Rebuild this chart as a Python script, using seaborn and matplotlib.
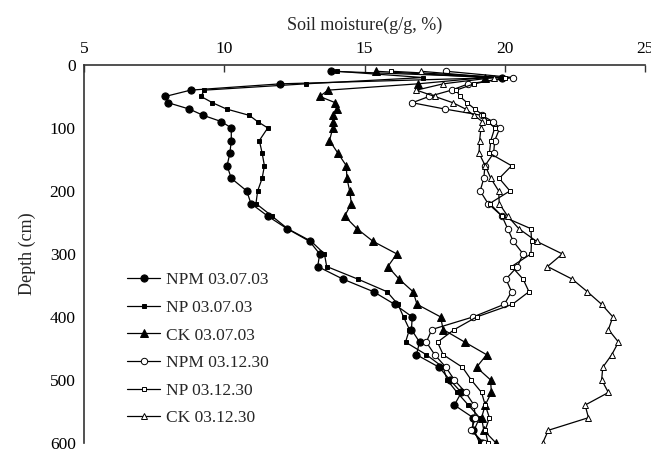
import matplotlib
matplotlib.use("Agg")
import matplotlib.pyplot as plt
import seaborn as sns
import pandas as pd

depth = [10, 20, 30, 40, 50, 60, 70, 80, 90, 100,
         120, 140, 160, 180, 200, 220, 240, 260, 280, 300,
         320, 340, 360, 380, 400, 420, 440, 460, 480, 500,
         520, 540, 560, 580, 600]

npm_0703 = [13.8, 19.9, 12.0, 8.8, 7.9, 8.0, 8.75, 9.25, 9.9, 10.25,
            10.25, 10.2, 10.1, 10.25, 10.8, 10.95, 11.55, 12.24, 13.04, 13.4,
            13.33, 14.23, 15.32, 16.07, 16.7, 16.67, 16.96, 16.85, 17.66, 18.04,
            18.45, 18.2, 18.87, 18.85, 19.17]
np_0703 = [14.0, 17.1, 12.9, 9.29, 9.17, 9.58, 10.08, 10.89, 11.19, 11.55,
           11.25, 11.35, 11.43, 11.35, 11.19, 11.13, 11.7, 12.26, 13.1, 13.57,
           13.65, 14.76, 15.8, 16.19, 16.39, 16.6, 16.46, 17.2, 17.8, 17.94,
           18.3, 18.7, 19.1, 18.9, 19.1]
ck_0703 = [15.4, 19.3, 16.9, 13.7, 13.4, 13.96, 14.0, 13.87, 13.87, 13.87,
           13.75, 14.05, 14.35, 14.37, 14.47, 14.53, 14.29, 14.73, 15.3, 16.15,
           15.83, 16.23, 16.73, 16.87, 17.71, 17.8, 18.57, 19.35, 18.99, 19.49,
           19.52, 19.3, 19.17, 19.25, 19.68]
npm_1230 = [17.9, 20.3, 18.7, 18.1, 17.3, 16.7, 17.86, 19.17, 19.58, 19.82,
            19.64, 19.6, 19.29, 19.25, 19.12, 19.4, 19.9, 20.1, 20.3, 20.65,
            20.45, 20.04, 20.24, 19.98, 18.87, 17.4, 17.2, 17.5, 17.9, 18.2,
            18.6, 18.9, 18.95, 18.8, 19.25]
np_1230 = [15.95, 20.0, 18.9, 18.27, 18.4, 18.65, 18.93, 19.23, 19.4, 19.64,
           19.5, 19.45, 20.24, 19.8, 20.18, 19.46, 19.9, 20.93, 20.95, 20.93,
           20.24, 20.65, 20.86, 20.27, 19.0, 18.2, 17.6, 17.8, 18.49, 18.8,
           19.17, 19.3, 19.45, 19.3, 19.4]
ck_1230 = [17.0, 19.6, 17.8, 16.85, 17.5, 18.15, 18.6, 18.9, 19.2, 19.15,
           19.1, 19.08, 19.3, 19.5, 19.78, 19.8, 20.1, 20.5, 21.13, 22.05,
           21.52, 22.4, 22.94, 23.45, 23.85, 23.69, 24.05, 23.81, 23.49, 23.45,
           23.69, 22.86, 22.98, 21.55, 21.35]

labels = ["NPM 03.07.03", "NP 03.07.03", "CK 03.07.03",
          "NPM 03.12.30", "NP 03.12.30", "CK 03.12.30"]
series = [npm_0703, np_0703, ck_0703, npm_1230, np_1230, ck_1230]
x_ticks = [5, 10, 15, 20, 25]
y_ticks = [0, 100, 200, 300, 400, 500, 600]

styles = [
    dict(marker="o", ms=5.2, mfc="black"),
    dict(marker="s", ms=2.8, mfc="black"),
    dict(marker="^", ms=5.4, mfc="black"),
    dict(marker="o", ms=4.6, mfc="white"),
    dict(marker="s", ms=3.2, mfc="white"),
    dict(marker="^", ms=5.0, mfc="white"),
]

sns.set_style("white")
plt.rcParams["font.family"] = ["Liberation Serif", "DejaVu Serif"]
plt.rcParams["font.size"] = 12.5

fig = plt.figure(figsize=(6.51, 4.51), dpi=100)
ax = fig.add_axes([0.129, 0.018, 0.862, 0.838])

for lab, vals, st in zip(labels, series, styles):
    df = pd.DataFrame({"moisture": vals, "depth": depth})
    sns.lineplot(data=df, x="moisture", y="depth", sort=False, estimator=None,
                 ax=ax, color="black", lw=0.9, label=lab,
                 marker=st["marker"], markersize=st["ms"],
                 markerfacecolor=st["mfc"], markeredgecolor="black",
                 markeredgewidth=0.7)

ax.set_xlim(5, 25)
ax.set_ylim(600, 0)
ax.set_xticks(x_ticks)
ax.set_yticks(y_ticks)
ax.xaxis.tick_top()
ax.xaxis.set_label_position("top")
ax.set_xlabel("Soil moisture(g/g, %)", fontsize=13, labelpad=8)
ax.set_ylabel("Depth (cm)", fontsize=13, labelpad=10)
ax.tick_params(axis="x", direction="in", length=5, width=1, colors="#333333",
               labelcolor="black", labelsize=12.5, pad=6)
ax.tick_params(axis="y", direction="in", length=5, width=1, colors="#333333",
               labelcolor="black", labelsize=12.5, pad=6)
for s in ["bottom", "right"]:
    ax.spines[s].set_visible(False)
for s in ["top", "left"]:
    ax.spines[s].set_color("#333333")
    ax.spines[s].set_linewidth(1.2)

leg = ax.legend(loc="upper left", bbox_to_anchor=(0.065, 0.47), frameon=False,
                fontsize=12.5, labelspacing=0.66, handlelength=1.9,
                handletextpad=0.35, borderaxespad=0)

fig.savefig("out.png", dpi=100)
